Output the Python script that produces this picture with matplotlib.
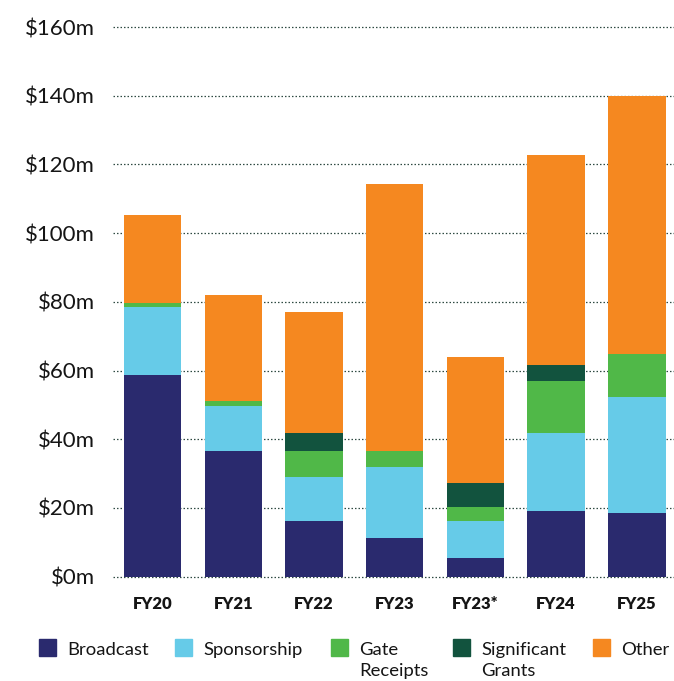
import numpy as np
import matplotlib
matplotlib.use("Agg")
import matplotlib.pyplot as plt
from matplotlib.patches import Rectangle

plt.rcParams['font.family'] = ['Lato', 'DejaVu Sans']

# values in $m
years = ['FY20', 'FY21', 'FY22', 'FY23', 'FY23*', 'FY24', 'FY25']
broadcast = [58.7, 36.7, 16.3, 11.3, 5.5, 19.2, 18.6]
sponsorship = [19.9, 12.9, 12.8, 20.5, 10.8, 22.5, 33.7]
gate_receipts = [1.1, 1.5, 7.6, 4.9, 4.0, 15.2, 12.5]
significant_grants = [0.0, 0.0, 5.0, 0.0, 7.0, 4.7, 0.0]
other = [25.7, 30.9, 35.4, 77.5, 36.6, 61.0, 75.2]

series = [
    ('Broadcast', broadcast, '#2a2a6e'),
    ('Sponsorship', sponsorship, '#66cbe8'),
    ('Gate\nReceipts', gate_receipts, '#50b848'),
    ('Significant\nGrants', significant_grants, '#12533e'),
    ('Other', other, '#f58820'),
]

y_ticks = [0, 20, 40, 60, 80, 100, 120, 140, 160]

W, H = 674, 681
fig = plt.figure(figsize=(W / 100, H / 100), dpi=100)
ax = fig.add_axes([113 / W, 1 - 576.7 / H, 1 - 113 / W, (576.7 - 27) / H])

x = np.arange(len(years))
bottom = np.zeros(len(years))
for name, vals, color in series:
    vals = np.array(vals)
    ax.bar(x, vals, bottom=bottom, width=0.71, color=color, linewidth=0, zorder=3)
    bottom += vals

ax.set_xlim(-0.49, 6.46)
ax.set_ylim(0, 160)
ax.set_yticks(y_ticks)
ax.set_yticklabels([f'${v}m' for v in y_ticks], fontsize=16, color='#151515')
ax.set_xticks(x)
ax.set_xticklabels(years, fontsize=12, fontweight='heavy', color='#151515')
ax.tick_params(axis='y', length=0, pad=13)
ax.tick_params(axis='x', length=0, pad=14)

for v in y_ticks:
    ax.axhline(v, color='#2f4a42', linewidth=0.9, linestyle=(0, (1.2, 1.6)), zorder=1, clip_on=False)

for s in ax.spines.values():
    s.set_visible(False)

# legend drawn by hand so the two-line labels hang below the first line
sq_x = [39, 175, 331, 453, 593]
for (name, vals, color), px in zip(series, sq_x):
    fig.patches.append(Rectangle((px / W, 1 - 656 / H), 17 / W, 17 / H,
                                 transform=fig.transFigure, color=color))
    for i, line in enumerate(name.split('\n')):
        fig.text((px + 28) / W, 1 - (655 + 21 * i) / H, line, fontsize=13.3,
                 color='#151515', va='baseline', ha='left')

fig.savefig('out.png', dpi=100)
